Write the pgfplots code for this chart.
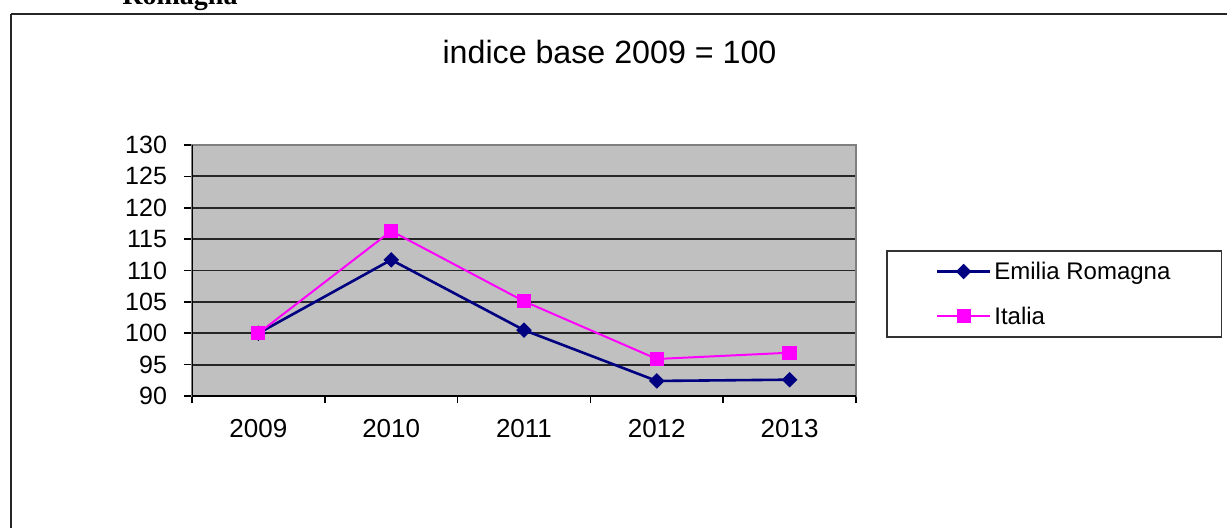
\documentclass[border=0pt]{standalone}
\usepackage{fontspec}
\setmainfont{Liberation Sans}
\newfontfamily\headserif{Liberation Serif}
\usepackage{pgfplots}
\pgfplotsset{compat=1.18}

\definecolor{erblue}{HTML}{000080}
\definecolor{itmag}{HTML}{FF00FF}
\definecolor{plotbg}{HTML}{C0C0C0}

\begin{document}
\begin{tikzpicture}[x=0.5pt,y=0.5pt]
\useasboundingbox (0,0) rectangle (1227,527);
\clip (0,0) rectangle (1227,527);
\fill[white] (0,0) rectangle (1227,527);
% frame of the chart object
\draw[line width=1pt, black!85] (11,512.7) -- (1260,512.7) (11,512.7) -- (11,-20);
% tail of the heading above the chart
\node[anchor=base, font=\headserif\bfseries\fontsize{14}{16}\selectfont] at (180,522.5) {Romagna};
% chart title
\node[font=\fontsize{16.1}{19}\selectfont] at (609.5,475) {indice base 2009 = 100};
\begin{axis}[
  at={(96pt,65.5pt)}, anchor=south west,
  scale only axis, width=332pt, height=125.5pt,
  xmin=-0.5, xmax=4.5, ymin=90, ymax=130,
  xtick={0,...,4}, xticklabels={2009,2010,2011,2012,2013},
  minor xtick={-0.5,0.5,...,4.5},
  ytick={90,95,...,130},
  xtick pos=bottom, ytick pos=left,
  tick align=outside,
  major tick length=4pt, minor tick length=3.5pt,
  major x tick style={draw=none},
  tick style={black, line width=0.8pt},
  ymajorgrids, grid style={black!85, line width=0.9pt},
  axis background/.style={fill=plotbg},
  axis line style={gray, line width=0.8pt},
  xticklabel style={font=\fontsize{13}{15}\selectfont, yshift=-4pt},
  yticklabel style={font=\fontsize{12.5}{15}\selectfont, xshift=-5pt},
  /pgf/number format/assume math mode=true,
  /pgf/number format/1000 sep={},
  legend cell align=left,
  legend image code/.code={\draw[mark repeat=2,mark phase=2,#1] plot coordinates {(0pt,0pt) (13.25pt,0pt) (26.5pt,0pt)};},
  legend style={at={(1.0452,0.5817)}, anchor=north west, draw=black!80, line width=0.8pt, fill=white,
    inner xsep=24.5pt, inner ysep=5.25pt, row sep=12pt, column sep=1.5pt,
    font=\fontsize{12}{14}\selectfont,
    nodes={inner sep=0pt, text height=9.25pt, text depth=1pt}},
]
\addplot[erblue, line width=1.3pt, mark=square*, mark size=2.5pt, mark options={rotate=45, line width=0.5pt}]
  coordinates {(0,100) (1,111.7) (2,100.5) (3,92.4) (4,92.6)};
\addlegendentry{\makebox[89pt][l]{Emilia Romagna}}
\addplot[itmag, line width=1pt, mark=square*, mark size=3.3pt, mark options={line width=0.5pt}]
  coordinates {(0,100) (1,116.3) (2,105.1) (3,95.9) (4,96.9)};
\addlegendentry{\makebox[89pt][l]{Italia}}
\draw[black, line width=1pt] (rel axis cs:0,1) -- (rel axis cs:0,0) -- (rel axis cs:1,0);
\end{axis}
\end{tikzpicture}
\end{document}
